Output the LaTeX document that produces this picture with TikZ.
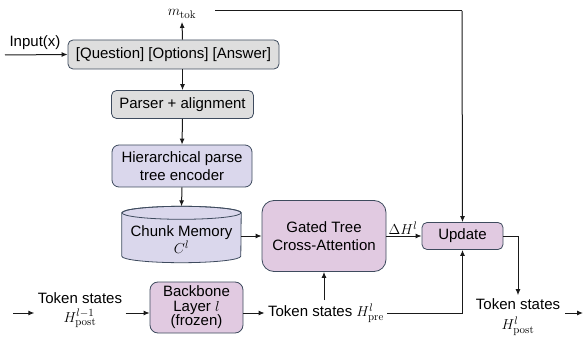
\documentclass[tikz,border=0pt]{standalone}
\usepackage[no-math]{fontspec}
\setmainfont{Liberation Sans}
\usetikzlibrary{arrows.meta}
\definecolor{bordc}{HTML}{3E4B5E}
\definecolor{grayf}{HTML}{DEDEDE}
\definecolor{lavf}{HTML}{DAD7EC}
\definecolor{mauvef}{HTML}{E1CAE1}
\definecolor{linec}{HTML}{1A1A1A}
\begin{document}
\begin{tikzpicture}[x=1pt,y=-1pt, font=\fontsize{15}{18}\selectfont,
  box/.style={draw=bordc, line width=0.8pt, rounded corners=5pt, align=center, inner sep=0pt},
  arr/.style={-{Latex[length=6pt,width=5pt]}, line width=1pt, draw=linec},
  ln/.style={line width=1pt, draw=linec}]
\useasboundingbox (0,0) rectangle (584,342);

% boxes
\node[box, fill=grayf, minimum width=211pt, minimum height=29pt] (qoa) at (173.5,54.5) {[Question] [Options] [Answer]};
\node[box, fill=grayf, minimum width=142pt, minimum height=28pt] (parser) at (182.5,104.5) {Parser + alignment};
\node[box, fill=lavf, rounded corners=7pt, minimum width=140pt, minimum height=42pt] (hier) at (182,166) {Hierarchical parse\\tree encoder};

% chunk memory cylinder
\node[minimum width=119pt, minimum height=43pt, inner sep=0pt] (mem) at (181.5,234.5) {};
\path[draw=bordc, fill=lavf, line width=0.8pt] (mem.north west) -- (mem.south west)
  arc[start angle=180, end angle=360, x radius=59.5pt, y radius=6.5pt]
  -- (mem.north east)
  arc[start angle=0, end angle=180, x radius=59.5pt, y radius=6.5pt] -- cycle;
\draw[draw=bordc, line width=0.8pt] (mem.north) ellipse[x radius=59.5pt, y radius=6.5pt];
\node[align=center, font=\fontsize{15}{14}\selectfont] (memt) at (181.5,240) {Chunk Memory\\$C^l$};

\node[box, fill=mauvef, rounded corners=12pt, minimum width=124pt, minimum height=71pt] (gated) at (324,236) {Gated Tree\\Cross-Attention};
\node[box, fill=mauvef, minimum width=81pt, minimum height=27pt] (upd) at (462.5,236) {Update};
\node[box, fill=mauvef, rounded corners=8pt, minimum width=93pt, minimum height=51pt, font=\fontsize{15}{14.5}\selectfont] (bb) at (196.5,307.5) {Backbone\\Layer $l$\\(frozen)};

% text labels
\node (mtok) at (182,14) {$m_{\mathrm{tok}}$};
\node (inp) at (35,43) {Input(x)};
\node[align=center, font=\fontsize{15}{15}\selectfont] (tin) at (80,310) {Token states\\[4pt]$H^{l-1}_{\mathrm{post}}$};
\node (tpre) at (326,313) {Token states $H^{l}_{\mathrm{pre}}$};
\node[align=center, font=\fontsize{15}{20}\selectfont] (tout) at (518,317) {Token states\\$H^{l}_{\mathrm{post}}$};
\node (dh) at (403,228) {$\Delta H^l$};

% free ends
\coordinate (tl) at (215,11);
\coordinate (tr) at (462,11);
\coordinate (inl) at (5,55);
\coordinate (yline) at (0,313);
\coordinate (lft) at (13,313);
\coordinate (outl) at (565,313);
\coordinate (outr) at (583,313);

% connectors
\draw[arr] (inl) -- (qoa.west);
\draw[arr] (parser.north |- qoa.north) -- (mtok.south);
\draw[arr] (parser.north |- qoa.south) -- (parser.north);
\draw[arr] (parser.south) -- (hier.north);
\draw[arr] (hier.south) -- ([yshift=6.5pt]mem.north);
\draw[arr] (mem.east |- gated.west) -- (gated.west);
\draw[arr] (gated.east) -- (upd.west);
\draw[ln] (tl) -- (tr);
\draw[arr] (tr) -- (upd.north);
\draw[arr] (lft) -- (tin.west |- yline);
\draw[arr] (tin.east |- yline) -- (bb.west |- yline);
\draw[arr] (bb.east |- yline) -- (tpre.west);
\draw[arr] (tpre.north -| gated.south) -- (gated.south);
\draw[arr] (tpre.east) -| (upd.south);
\draw[arr] (upd.east) -| (tout.north);
\draw[arr] (outl) -- (outr);
\end{tikzpicture}
\end{document}
